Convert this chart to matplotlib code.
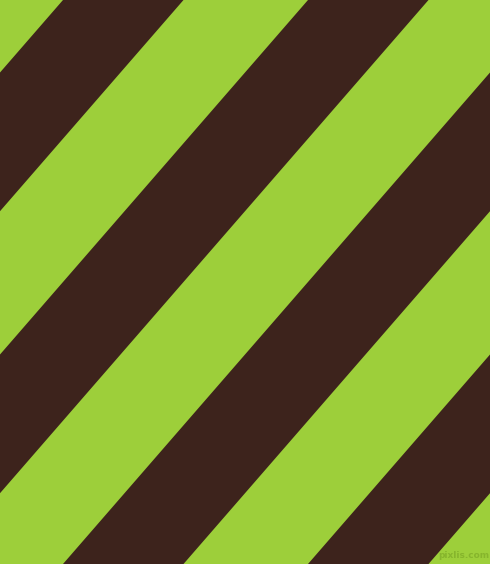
import matplotlib
matplotlib.use("Agg")
import matplotlib.pyplot as plt

# image size in pixels
width = 490
height = 564

# where each dark stripe starts / ends along the top row (pixels)
stripe_starts = [63, 308, 553, 798]
stripe_ends = [183.5, 428.5, 673.5, 918.5]
slope = 564 / 490  # rows per column of sideways drift

green = "#9dcf3a"
dark = "#3d231c"


def main():
    fig = plt.figure(figsize=(width / 100, height / 100), dpi=100)
    ax = fig.add_axes([0, 0, 1, 1])
    ax.set_facecolor(green)
    ax.set_xlim(0, width)
    ax.set_ylim(height, 0)
    ax.axis("off")
    fig.patch.set_facecolor(green)

    shift = height / slope
    for s, e in zip(stripe_starts, stripe_ends):
        xs = [s, e, e - shift, s - shift]
        ys = [0, 0, height, height]
        ax.fill(xs, ys, color=dark, linewidth=0)

    ax.text(464, 555, "pixlis.com", fontsize=6.5, color="#86b52c",
            ha="center", va="center", fontweight="bold")

    fig.savefig("out.png", dpi=100, facecolor=green)


main()
